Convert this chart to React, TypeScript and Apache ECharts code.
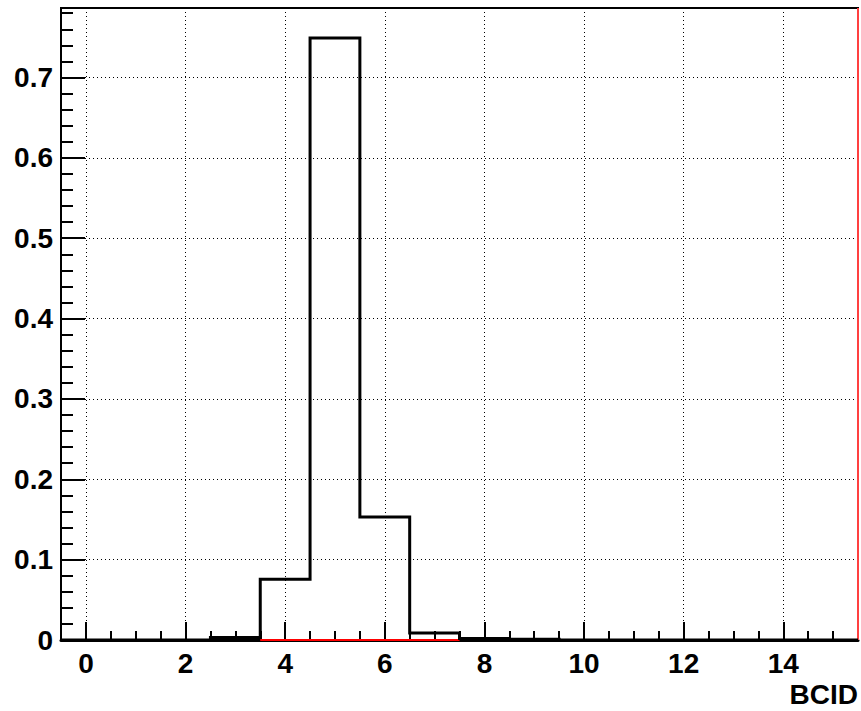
import React, { useEffect, useRef } from "react";
import * as echarts from "echarts";

// Histogram bins (centers) and contents
const binCenters = [0, 1, 2, 3, 4, 5, 6, 7, 8, 9, 10, 11, 12, 13, 14, 15];
const binValues = [0, 0, 0, 0.003, 0.0755, 0.749, 0.153, 0.0087, 0.002, 0.001, 0, 0, 0, 0, 0, 0];
// second (red) histogram, only drawn where it has content
const redBinValues: (number | null)[] = [null, null, null, null, 0, 0, 0, 0, null, null, null, null, null, null, null, null];

const xTickLabels = ["0", "2", "4", "6", "8", "10", "12", "14"];
const yTickLabels = ["0", "0.1", "0.2", "0.3", "0.4", "0.5", "0.6", "0.7"];
const xTitle = "BCID";

const binWidth = 1;
const xMin = binCenters[0] - binWidth / 2;
const xMax = binCenters[binCenters.length - 1] + binWidth / 2;
const yMax = Math.max(...binValues) * 1.05;

function stepOutline(values: number[]): number[][] {
  const pts: number[][] = [[xMin, 0]];
  values.forEach((v, i) => {
    const c = binCenters[i];
    pts.push([c - binWidth / 2, v]);
    pts.push([c + binWidth / 2, v]);
  });
  pts.push([xMax, 0]);
  return pts;
}

function stepSegments(values: (number | null)[]): (number[] | string)[] {
  const pts: (number[] | string)[] = [];
  values.forEach((v, i) => {
    const c = binCenters[i];
    if (v == null) {
      if (pts.length && pts[pts.length - 1] !== "-") pts.push("-");
      return;
    }
    pts.push([c - binWidth / 2, v]);
    pts.push([c + binWidth / 2, v]);
  });
  return pts;
}

const FONT = "'Liberation Sans', Arial, Helvetica, sans-serif";

export default function App() {
  const ref = useRef<HTMLDivElement>(null);
  useEffect(() => {
    if (!ref.current) return;
    const chart = echarts.init(ref.current, undefined, { renderer: "svg" });
    const dotted = { color: "#000", width: 1, type: [1, 3] as any };
    const labelStyle = {
      fontSize: 28,
      fontWeight: "bold",
      fontFamily: FONT,
      color: "#000",
    };
    chart.setOption({
      animation: false,
      backgroundColor: "#fff",
      grid: {
        left: 61,
        top: 8,
        right: 1,
        bottom: 71,
        show: true,
        borderColor: "#000",
        borderWidth: 2,
      },
      xAxis: [
        {
          type: "value",
          min: xMin,
          max: xMax,
          splitNumber: 8,
          position: "bottom",
          axisLine: { show: true, onZero: false, lineStyle: { color: "#000", width: 3 } },
          axisTick: { show: true, inside: true, length: 18, lineStyle: { color: "#000", width: 2 } },
          axisLabel: {
            show: true,
            margin: 9,
            ...labelStyle,
            formatter: (v: number) => {
              const s = String(Math.round(v * 1000) / 1000);
              return xTickLabels.includes(s) ? s : "";
            },
          },
          splitLine: { show: true, lineStyle: dotted },
        },
        {
          type: "value",
          min: xMin,
          max: xMax,
          interval: 0.5,
          position: "bottom",
          axisLine: { show: false, onZero: false },
          axisTick: { show: true, inside: true, length: 9, lineStyle: { color: "#000", width: 2 } },
          axisLabel: { show: false },
          splitLine: { show: false },
        },
      ],
      yAxis: [
        {
          type: "value",
          min: 0,
          max: yMax,
          interval: 0.1,
          position: "left",
          axisLine: { show: true, onZero: false, lineStyle: { color: "#000", width: 2 } },
          axisTick: { show: true, inside: true, length: 24, lineStyle: { color: "#000", width: 2 } },
          axisLabel: {
            show: true,
            margin: 8,
            ...labelStyle,
            formatter: (v: number) => {
              const idx = Math.round(v * 10);
              if (Math.abs(v - idx / 10) > 1e-6) return "";
              return yTickLabels[idx] ?? "";
            },
          },
          splitLine: { show: true, lineStyle: dotted },
        },
        {
          type: "value",
          min: 0,
          max: yMax,
          interval: 0.02,
          position: "left",
          axisLine: { show: false, onZero: false },
          axisTick: { show: true, inside: true, length: 12, lineStyle: { color: "#000", width: 2 } },
          axisLabel: { show: false },
          splitLine: { show: false },
        },
      ],
      series: [
        {
          type: "line",
          xAxisIndex: 0,
          yAxisIndex: 0,
          data: stepSegments(redBinValues),
          symbol: "none",
          clip: false,
          lineStyle: { color: "#ff0000", width: 2 },
          z: 3,
        },
        {
          type: "line",
          xAxisIndex: 0,
          yAxisIndex: 0,
          data: [
            [xMax, 0],
            [xMax, yMax],
          ],
          symbol: "none",
          clip: false,
          lineStyle: { color: "#ff4040", width: 2 },
          z: 3,
        },
        {
          type: "line",
          xAxisIndex: 0,
          yAxisIndex: 0,
          data: stepOutline(binValues),
          symbol: "none",
          clip: false,
          lineStyle: { color: "#000", width: 3, join: "miter", cap: "butt" },
          z: 4,
        },
      ],
      graphic: [
        {
          type: "text",
          right: 3,
          top: 680,
          style: {
            text: xTitle,
            fontSize: 28,
            fontWeight: "bold",
            fontFamily: FONT,
            fill: "#000",
          },
        },
      ],
    });
    return () => chart.dispose();
  }, []);
  return (
    <div
      ref={ref}
      style={{ position: "fixed", left: 0, top: 0, width: 861, height: 711, background: "#fff" }}
    />
  );
}
